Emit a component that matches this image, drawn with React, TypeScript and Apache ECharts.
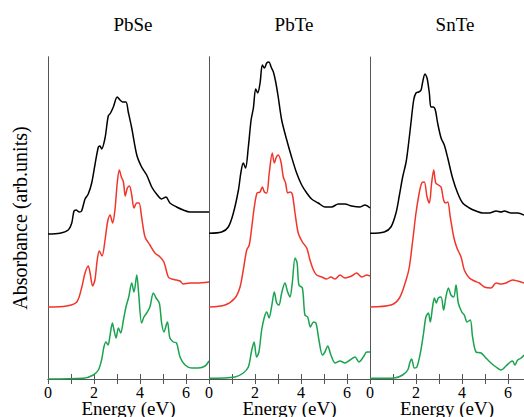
import React, { useEffect, useRef } from "react";
import * as echarts from "echarts";

// Panel titles and axis texts
const panelTitles = ["PbSe", "PbTe", "SnTe"];
const xAxisName = "Energy (eV)";
const yAxisName = "Absorbance (arb.units)";
const xLabelValues = [0, 2, 4, 6];
const xMaxByPanel = [7, 7, 6.7];

// vertical offsets of the three stacked curves (arb. units)
const curveOffsets = [145, 72, 0];
const curveColors = ["#000000", "#f2352a", "#1aa34f"];

// PbSe  [energy eV, absorbance arb.]
const pbseBlack = [[0,0],[0.52,0.7],[0.88,4],[1.03,10.7],[1.13,23],[1.22,24],[1.36,22],[1.46,23],[1.61,35],[1.75,40],[1.9,51],[2.04,69],[2.19,87],[2.26,88],[2.33,85],[2.48,96],[2.62,118],[2.72,121],[2.84,127],[3.01,137],[3.13,134],[3.25,132],[3.39,132],[3.49,122],[3.64,106],[3.86,79],[4.07,67],[4.29,59],[4.51,47],[4.72,40],[4.94,35],[5.13,37],[5.3,31],[5.59,27],[5.88,24],[6.17,22],[6.61,22],[7.0,22]];
const pbseRed = [[0,0],[0.81,1],[1.25,5],[1.46,19],[1.61,34],[1.75,41],[1.83,34],[1.94,21],[2.04,27],[2.14,47],[2.23,56],[2.35,51],[2.48,67],[2.59,85],[2.7,92],[2.81,84],[2.91,97],[3.01,124],[3.1,137],[3.19,130],[3.28,125],[3.36,111],[3.45,119],[3.54,121],[3.64,112],[3.74,99],[3.86,104],[3.96,104],[4.07,90],[4.22,70],[4.43,62],[4.65,54],[4.87,50],[5.04,45],[5.23,30],[5.38,28],[5.59,27],[5.74,26],[5.88,23],[6.17,24],[6.46,24],[7.0,25]];
const pbseGreen = [[0,0],[1.54,0.7],[1.97,4],[2.19,9],[2.33,19],[2.43,32],[2.52,37],[2.61,34],[2.7,44],[2.8,56],[2.87,49],[2.96,41],[3.06,51],[3.16,46],[3.28,59],[3.39,72],[3.51,82],[3.64,96],[3.74,87],[3.86,104],[3.94,86],[4.07,56],[4.17,62],[4.29,66],[4.43,72],[4.58,86],[4.7,81],[4.84,76],[4.94,56],[5.04,47],[5.19,57],[5.3,41],[5.45,37],[5.59,36],[5.74,22],[5.96,14],[6.25,11],[6.54,11],[6.83,13],[7.0,18]];

// PbTe
const pbteBlack = [[0,0.7],[0.55,2],[0.84,7],[1.06,21],[1.28,44],[1.39,62],[1.49,71],[1.59,66],[1.71,87],[1.83,114],[1.93,126],[2.03,145],[2.12,141],[2.22,151],[2.32,169],[2.41,166],[2.51,171],[2.61,172],[2.7,167],[2.8,162],[2.9,152],[3.01,137],[3.16,114],[3.38,94],[3.59,77],[3.81,61],[4.03,49],[4.25,41],[4.46,35],[4.75,31],[5.04,27],[5.33,27],[5.62,30],[5.91,30],[6.2,28],[6.57,27],[6.78,29],[7.0,26]];
const pbteRed = [[0,0],[0.7,2],[1.13,9],[1.35,20],[1.49,37],[1.64,57],[1.75,62],[1.86,80],[1.97,100],[2.09,114],[2.22,115],[2.32,120],[2.41,115],[2.51,114],[2.62,134],[2.75,154],[2.84,144],[2.93,150],[3.01,152],[3.13,145],[3.23,130],[3.33,124],[3.42,114],[3.52,115],[3.62,113],[3.74,94],[3.88,74],[4.06,65],[4.25,59],[4.39,47],[4.54,37],[4.68,32],[4.9,30],[5.12,28],[5.3,30],[5.48,28],[5.7,32],[5.91,29],[6.2,31],[6.42,34],[6.64,30],[6.86,32],[7.0,31]];
const pbteGreen = [[0,0.7],[1.13,2],[1.49,6],[1.71,12],[1.86,29],[1.96,37],[2.07,22],[2.17,27],[2.29,49],[2.41,62],[2.51,67],[2.61,61],[2.72,72],[2.84,87],[2.94,76],[3.04,74],[3.16,86],[3.3,96],[3.42,87],[3.52,82],[3.62,96],[3.74,121],[3.83,116],[3.91,94],[4.06,91],[4.17,64],[4.29,62],[4.41,52],[4.54,57],[4.65,56],[4.78,39],[4.93,24],[5.04,27],[5.16,33],[5.3,24],[5.48,16],[5.7,18],[5.91,16],[6.13,19],[6.35,22],[6.52,17],[6.71,22],[6.86,27],[7.0,27]];

// SnTe
const snteBlack = [[0,0.7],[0.62,2],[0.91,7],[1.13,21],[1.28,39],[1.42,57],[1.57,72],[1.68,91],[1.78,111],[1.9,134],[2.0,141],[2.12,142],[2.22,144],[2.29,152],[2.39,160],[2.48,156],[2.58,141],[2.65,127],[2.75,127],[2.84,124],[2.94,111],[3.09,96],[3.23,89],[3.38,76],[3.59,56],[3.81,41],[4.03,31],[4.32,26],[4.61,23],[4.9,21],[5.19,21],[5.48,23],[5.7,22],[5.84,23],[6.13,21],[6.42,21],[6.7,19]];
const snteRed = [[0,0],[0.91,2],[1.28,9],[1.57,27],[1.71,40],[1.86,67],[2.0,94],[2.14,114],[2.25,124],[2.36,125],[2.48,110],[2.58,104],[2.68,124],[2.77,137],[2.86,124],[2.97,122],[3.09,120],[3.2,107],[3.29,104],[3.38,105],[3.49,90],[3.64,70],[3.78,59],[3.96,50],[4.1,37],[4.32,29],[4.54,26],[4.75,24],[4.97,20],[5.26,19],[5.48,24],[5.7,23],[5.91,24],[6.2,27],[6.42,26],[6.7,24]];
const snteGreen = [[0,0.7],[1.06,1],[1.42,4],[1.64,9],[1.74,17],[1.81,20],[1.93,11],[2.04,12],[2.19,26],[2.33,46],[2.43,62],[2.54,66],[2.62,57],[2.72,72],[2.8,81],[2.88,76],[2.97,81],[3.09,82],[3.2,69],[3.3,82],[3.41,91],[3.52,84],[3.64,82],[3.74,94],[3.84,76],[3.99,67],[4.1,64],[4.22,57],[4.36,59],[4.46,42],[4.61,27],[4.83,26],[5.04,21],[5.26,16],[5.48,12],[5.7,9],[5.91,13],[6.1,17],[6.2,18],[6.3,14],[6.42,19],[6.57,21],[6.7,24]];

const panelCurves = [
  [pbseBlack, pbseRed, pbseGreen],
  [pbteBlack, pbteRed, pbteGreen],
  [snteBlack, snteRed, snteGreen],
];

const FONT = "Liberation Serif";
const AXIS_COLOR = "#555555";

export default function App() {
  const ref = useRef<HTMLDivElement>(null);

  useEffect(() => {
    if (!ref.current) return;
    const chart = echarts.init(ref.current, undefined, { renderer: "svg" });

    const gridLeft = [48, 209, 370];
    const pxPerEv = 23;
    const grids = gridLeft.map((l, i) => ({
      left: l,
      top: 57,
      width: xMaxByPanel[i] * pxPerEv,
      height: 322,
      show: false,
      containLabel: false,
      outerBoundsMode: "none",
    }));

    const xAxes: any[] = [];
    const yAxes: any[] = [];
    const series: any[] = [];

    panelTitles.forEach((_, i) => {
      const common = {
        type: "value",
        gridIndex: i,
        min: 0,
        max: xMaxByPanel[i],
        interval: 1,
        axisLine: { show: true, lineStyle: { color: AXIS_COLOR, width: 1 } },
        axisTick: { show: true, inside: true, length: 5, lineStyle: { color: AXIS_COLOR } },
        splitLine: { show: false },
      };
      xAxes.push({
        ...common,
        position: "bottom",
        name: xAxisName,
        nameLocation: "middle",
        nameGap: 20,
        nameMoveOverlap: false,
        nameTextStyle: { fontFamily: FONT, fontSize: 19, lineHeight: 19, color: "#000", verticalAlign: "top" },
        axisLabel: {
          show: true,
          margin: 6,
          fontFamily: FONT,
          fontSize: 16,
          lineHeight: 14,
          color: "#000",
          showMinLabel: true,
          showMaxLabel: true,
          hideOverlap: false,
          formatter: (v: number) => (xLabelValues.includes(v) ? String(v) : ""),
        },
      });
      xAxes.push({
        ...common,
        position: "top",
        axisLabel: { show: false },
      });
      const yCommon = {
        type: "value",
        gridIndex: i,
        min: 0,
        max: 322,
        axisLine: { show: true, lineStyle: { color: AXIS_COLOR, width: 1 } },
        axisTick: { show: false },
        axisLabel: { show: false },
        splitLine: { show: false },
      };
      yAxes.push({
        ...yCommon,
        position: "left",
        ...(i === 0
          ? {
              name: yAxisName,
              nameLocation: "middle",
              nameGap: 18,
              nameMoveOverlap: false,
              nameTextStyle: { fontFamily: FONT, fontSize: 20, color: "#000" },
            }
          : {}),
      });
      yAxes.push({ ...yCommon, position: "right", axisLine: { show: i < 2, lineStyle: { color: AXIS_COLOR, width: 1 } } });

      panelCurves[i].forEach((curve, k) => {
        series.push({
          type: "line",
          xAxisIndex: i * 2,
          yAxisIndex: i * 2,
          data: curve.map(([e, a]) => [e, a + curveOffsets[k]]),
          showSymbol: false,
          symbol: "none",
          smooth: 0.3,
          lineStyle: { color: curveColors[k], width: 1.5 },
          clip: true,
        });
      });
    });

    chart.setOption({
      animation: false,
      backgroundColor: "#ffffff",
      textStyle: { fontFamily: FONT },
      title: panelTitles.map((t, i) => ({
        text: t,
        left: gridLeft[i] + 80,
        top: 10,
        textAlign: "center",
        textStyle: { fontFamily: FONT, fontSize: 19, fontWeight: "normal", color: "#000" },
      })),
      grid: grids,
      xAxis: xAxes,
      yAxis: yAxes,
      series,
    });

    return () => chart.dispose();
  }, []);

  return (
    <div
      style={{
        position: "fixed",
        left: 0,
        top: 0,
        width: 524,
        height: 417,
        overflow: "hidden",
        background: "#fff",
      }}
    >
      <div ref={ref} style={{ width: 524, height: 417 }} />
    </div>
  );
}
